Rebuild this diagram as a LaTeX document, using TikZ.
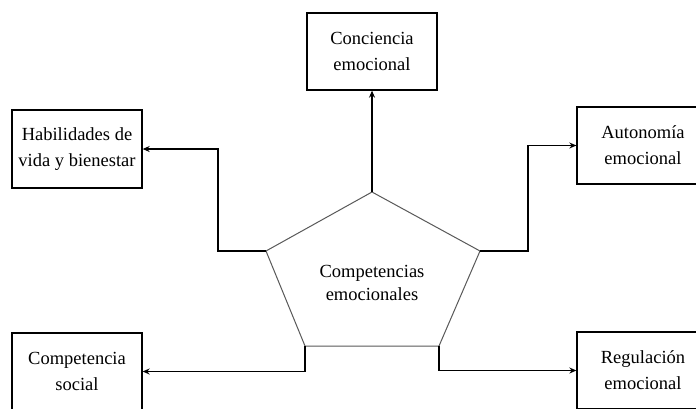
\documentclass[tikz,border=0pt]{standalone}
\usepackage{fontspec}
\setmainfont{Liberation Serif}
\usetikzlibrary{arrows.meta}
\begin{document}
\begin{tikzpicture}[x=1pt,y=-1pt,
  box/.style={draw=black,line width=1.3pt,rectangle,align=center,inner sep=0pt,
    font=\fontsize{18.5}{26}\selectfont},
  conn/.style={draw=black,line width=1.3pt,-{Stealth[length=7pt,width=6pt]}},
  penta/.style={draw=black!65,line width=1pt}]
\useasboundingbox (0,0) rectangle (696,408);
\fill[white] (0,0) rectangle (696,408);
% boxes
\node[box,minimum width=130pt,minimum height=77pt] (con) at (372,51.5) {Conciencia\\emocional};
\node[box,minimum width=130pt,minimum height=78pt] (hab) at (77,149) {Habilidades de\\vida y bienestar};
\node[box,minimum width=132pt,minimum height=77pt] (aut) at (643,145.5) {Autonomía\\emocional};
\node[box,minimum width=130pt,minimum height=77pt] (soc) at (77,371.5) {Competencia\\social};
\node[box,minimum width=132pt,minimum height=77pt] (reg) at (643,370.5) {Regulación\\emocional};
% pentagon
\coordinate (pt) at (372,192);
\coordinate (pl) at (266,251);
\coordinate (pr) at (480,251);
\coordinate (pbl) at (305,346);
\coordinate (pbr) at (439,346);
\draw[penta] (pt) -- (pr) -- (pbr) -- (pbl) -- (pl) -- cycle;
\node[align=center,font=\fontsize{18.5}{23}\selectfont] (cen) at (372,283) {Competencias\\emocionales};
% junctions
\coordinate (jl) at (218,251);
\coordinate (jr) at (528,251);
% connectors
\draw[conn] (pt) -- (con.south);
\draw[conn] (pl) -- (jl) |- (hab.east);
\draw[conn] (pr) -- (jr) |- (aut.west);
\draw[conn] (pbl) |- (soc.east);
\draw[conn] (pbr) |- (reg.west);
\end{tikzpicture}
\end{document}
